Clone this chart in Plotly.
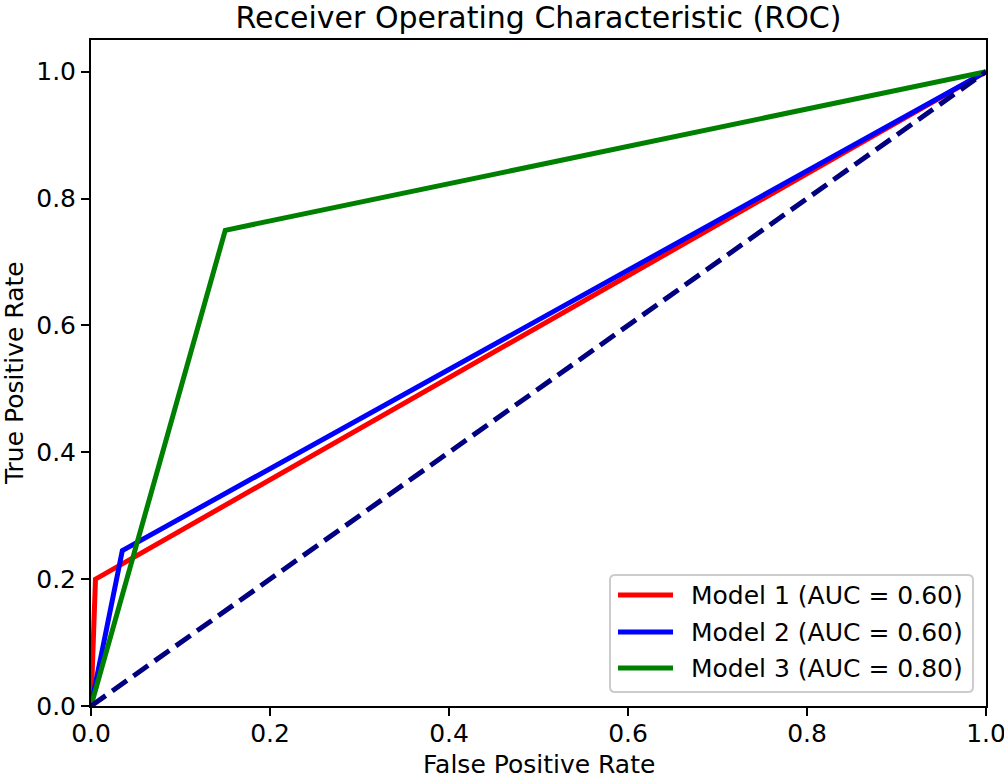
import plotly.graph_objects as go

# Data
model_names = ["Model 1 (AUC = 0.60)", "Model 2 (AUC = 0.60)", "Model 3 (AUC = 0.80)"]
model_colors = ["#ff0000", "#0000ff", "#008000"]
fpr_m1 = [0.0, 0.005, 1.0]
tpr_m1 = [0.0, 0.2, 1.0]
fpr_m2 = [0.0, 0.035, 1.0]
tpr_m2 = [0.0, 0.245, 1.0]
fpr_m3 = [0.0, 0.15, 1.0]
tpr_m3 = [0.0, 0.75, 1.0]
chance_x = [0.0, 1.0]
chance_y = [0.0, 1.0]
tick_vals = [0.0, 0.2, 0.4, 0.6, 0.8, 1.0]

FONT = "DejaVu Sans"
FS = 25
W, H = 1004, 776
ML, MR, MT, MB = 91, 18, 40, 70
PW, PH = W - ML - MR, H - MT - MB

fig = go.Figure()
for fx, ty, name, col in zip([fpr_m1, fpr_m2, fpr_m3], [tpr_m1, tpr_m2, tpr_m3], model_names, model_colors):
    fig.add_trace(go.Scatter(x=fx, y=ty, mode="lines", name=name,
                             line=dict(color=col, width=5), showlegend=False))
fig.add_trace(go.Scatter(x=chance_x, y=chance_y, mode="lines",
                         line=dict(color="#000080", width=5, dash="18px,8px"), showlegend=False))

axis_common = dict(showline=True, linecolor="black", linewidth=2, mirror=True,
                   ticks="outside", ticklen=8, tickwidth=2, tickcolor="black",
                   showgrid=False, zeroline=False, tickvals=tick_vals, tickformat=".1f",
                   ticklabeloverflow="allow",
                   tickfont=dict(family=FONT, size=FS, color="black"))
fig.update_xaxes(range=[0, 1], ticklabelstandoff=-4, **axis_common)
fig.update_yaxes(range=[0, 1.05], **axis_common)

def px2x(p):
    return (p - ML) / PW

def px2y(p):
    return (H - MB - p) / PH

# Legend (manual)
x0, x1 = px2x(610), px2x(973)
y0, y1 = px2y(692), px2y(575)
rx, ry = 5 / PW, 5 / PH
path = (f"M{x0+rx},{y0} L{x1-rx},{y0} Q{x1},{y0} {x1},{y0+ry} L{x1},{y1-ry} Q{x1},{y1} {x1-rx},{y1} "
        f"L{x0+rx},{y1} Q{x0},{y1} {x0},{y1-ry} L{x0},{y0+ry} Q{x0},{y0} {x0+rx},{y0} Z")
fig.add_shape(type="path", path=path, xref="paper", yref="paper",
              line=dict(color="#cccccc", width=2), fillcolor="rgba(255,255,255,0.8)", layer="above")
entry_y = [595, 632, 668]
for ey, name, col in zip(entry_y, model_names, model_colors):
    fig.add_shape(type="line", xref="paper", yref="paper", x0=px2x(618), x1=px2x(673),
                  y0=px2y(ey), y1=px2y(ey), line=dict(color=col, width=5), layer="above")
    fig.add_annotation(x=px2x(689), y=px2y(ey), xref="paper", yref="paper", text=name,
                       showarrow=False, xanchor="left", yanchor="middle",
                       font=dict(family=FONT, size=FS, color="black"))

# Axis titles
fig.add_annotation(x=0.5, y=px2y(764), xref="paper", yref="paper", text="False Positive Rate",
                   showarrow=False, xanchor="center", yanchor="middle",
                   font=dict(family=FONT, size=FS, color="black"))
fig.add_annotation(x=px2x(14), y=0.5, xref="paper", yref="paper", text="True Positive Rate",
                   showarrow=False, xanchor="center", yanchor="middle", textangle=-90,
                   font=dict(family=FONT, size=FS, color="black"))

fig.update_layout(
    width=W, height=H,
    margin=dict(l=ML, r=MR, t=MT, b=MB, autoexpand=False),
    paper_bgcolor="white", plot_bgcolor="white",
    title=dict(text="Receiver Operating Characteristic (ROC)", x=(ML + PW / 2) / W, xanchor="center",
               y=1 - 17 / H, yanchor="middle", font=dict(family=FONT, size=30, color="black")),
    showlegend=False,
)
fig.write_html("out.html", config={"displayModeBar": False},
               post_script="document.body.style.margin='0';document.body.style.overflow='hidden';")
